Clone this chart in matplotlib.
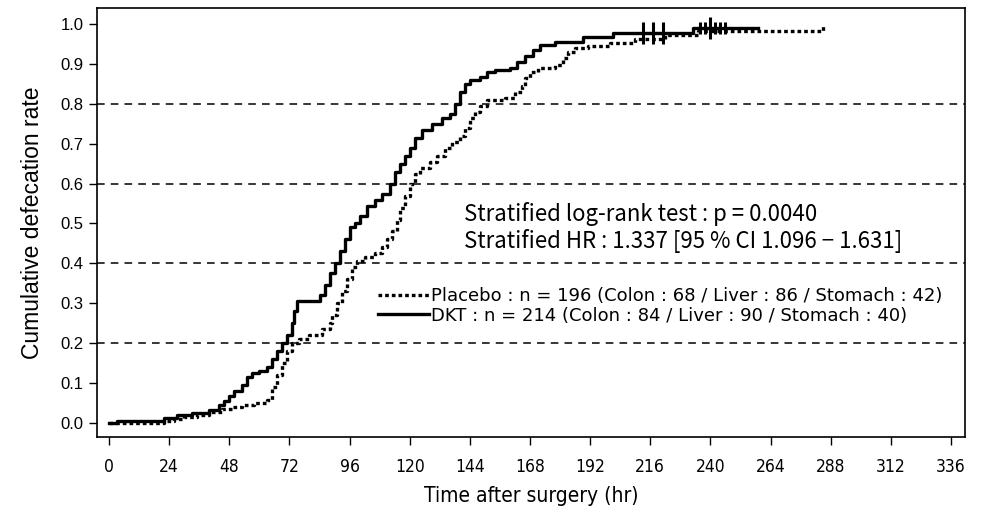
import matplotlib
matplotlib.use("Agg")
import matplotlib.pyplot as plt
from matplotlib.lines import Line2D
import warnings
warnings.filterwarnings("ignore")

# ---- data ----
dkt_t = [0, 3, 22, 27, 33, 40, 44, 46, 48, 50, 53, 55, 57, 60, 63, 65, 67, 69, 71, 73, 74, 75,
         84, 86, 88, 90, 92, 94, 96, 98, 100, 103, 106, 109, 112, 114, 116, 118, 120, 122, 125,
         129, 133, 136, 138, 140, 142, 144, 148, 151, 154, 160, 163, 166, 169, 172, 178, 189,
         201, 233, 259]
dkt_v = [0, 0.005, 0.013, 0.02, 0.025, 0.033, 0.045, 0.055, 0.068, 0.08, 0.095, 0.115, 0.125,
         0.13, 0.14, 0.16, 0.18, 0.2, 0.22, 0.25, 0.28, 0.305, 0.32, 0.345, 0.375, 0.40, 0.43,
         0.46, 0.49, 0.50, 0.52, 0.545, 0.56, 0.575, 0.60, 0.63, 0.65, 0.67, 0.69, 0.715, 0.735,
         0.75, 0.765, 0.775, 0.80, 0.83, 0.85, 0.86, 0.867, 0.88, 0.885, 0.89, 0.905, 0.92,
         0.935, 0.947, 0.955, 0.967, 0.977, 0.99, 0.99]

pla_t = [0, 22, 26, 30, 35, 40, 45, 49, 53, 58, 63, 65, 67, 69, 71, 73, 76, 80, 85, 88, 89, 91,
         93, 95, 97, 99, 102, 106, 109, 111, 113, 115, 116, 118, 120, 122, 124, 128, 131, 134,
         137, 140, 142, 144, 146, 148, 151, 158, 162, 165, 166, 168, 171, 178, 181, 183, 186,
         191, 200, 210, 222, 235, 285]
pla_v = [0, 0.005, 0.01, 0.015, 0.02, 0.028, 0.035, 0.04, 0.045, 0.05, 0.058, 0.09, 0.12, 0.15,
         0.18, 0.2, 0.21, 0.22, 0.235, 0.25, 0.27, 0.30, 0.33, 0.36, 0.39, 0.405, 0.415, 0.425,
         0.44, 0.46, 0.48, 0.51, 0.54, 0.57, 0.60, 0.625, 0.64, 0.655, 0.67, 0.69, 0.705, 0.72,
         0.74, 0.765, 0.78, 0.795, 0.81, 0.815, 0.83, 0.845, 0.865, 0.88, 0.89, 0.897, 0.915,
         0.93, 0.94, 0.945, 0.952, 0.962, 0.972, 0.982, 0.995]

dkt_cens_t = [213, 217, 221, 240]
dkt_cens_v = [0.977, 0.977, 0.977, 0.99]
dkt_cens_small_t = [236, 238, 242, 244, 246]
dkt_cens_small_v = [0.99, 0.99, 0.99, 0.99, 0.99]

x_ticks = list(range(0, 337, 24))
y_ticks = [0.0, 0.1, 0.2, 0.3, 0.4, 0.5, 0.6, 0.7, 0.8, 0.9, 1.0]
grid_levels = [0.2, 0.4, 0.6, 0.8]

legend_labels = ["Placebo : n = 196 (Colon : 68 / Liver : 86 / Stomach : 42)",
                 "DKT : n = 214 (Colon : 84 / Liver : 90 / Stomach : 40)"]
stat_lines = ["Stratified log-rank test : p = 0.0040",
              "Stratified HR : 1.337 [95 % CI 1.096 \u2212 1.631]"]

# ---- figure ----
fig = plt.figure(figsize=(9.81, 5.07), dpi=100)
ax = fig.add_axes([97/981, 1-437/507, (965-97)/981, (437-8)/507])

for g in grid_levels:
    ax.axhline(g, color="black", lw=1.1, ls=(0, (5, 4)), zorder=1)

ax.step(pla_t, pla_v, where="post", color="black", lw=2.4, ls=(0, (1.1, 0.9)), zorder=3)
ax.step(dkt_t, dkt_v, where="post", color="black", lw=2.4, ls="-", zorder=4)

ax.plot(dkt_cens_t, dkt_cens_v, ls="none", marker="+", ms=16, mew=2.2, color="black", zorder=5)
ax.plot(dkt_cens_small_t, dkt_cens_small_v, ls="none", marker="|", ms=8, mew=2.2, color="black", zorder=5)

ax.set_xlim(-4.8, 341.6)
ax.set_ylim(-0.035, 1.04)
ax.set_xticks(x_ticks)
ax.set_yticks(y_ticks)
ax.set_yticklabels([f"{v:.1f}" for v in y_ticks], fontsize=12, family=["Liberation Sans", "DejaVu Sans"])
ax.set_xticklabels([str(v) for v in x_ticks], fontsize=12.5, family=["DejaVu Sans"],
                   fontstretch="condensed")
ax.tick_params(direction="out", length=6, width=1, colors="black")
ax.tick_params(axis="x", pad=9)
for s in ax.spines.values():
    s.set_linewidth(1.2)

ax.set_xlabel("Time after surgery (hr)", fontsize=15, labelpad=7,
              family=["DejaVu Sans"], fontstretch="condensed")
ax.set_ylabel("Cumulative defecation rate", fontsize=16.5, labelpad=12,
              family=["Liberation Sans", "DejaVu Sans"])

txt_font = ["Noto Sans CJK JP", "DejaVu Sans"]
ax.text(0.423, 0.519, stat_lines[0], transform=ax.transAxes, fontsize=16, va="center",
        family=txt_font)
ax.text(0.423, 0.456, stat_lines[1], transform=ax.transAxes, fontsize=16, va="center",
        family=txt_font)

handles = [Line2D([], [], color="black", lw=2.4, ls=(0, (1.1, 0.9))),
           Line2D([], [], color="black", lw=2.4, ls="-")]
leg = ax.legend(handles, legend_labels, loc="upper left", bbox_to_anchor=(0.324, 0.35),
                frameon=False, handlelength=2.8, handletextpad=0.15, labelspacing=0.1,
                borderaxespad=0, borderpad=0, prop={"family": "DejaVu Sans", "size": 13})

fig.savefig("out.png", dpi=100)
